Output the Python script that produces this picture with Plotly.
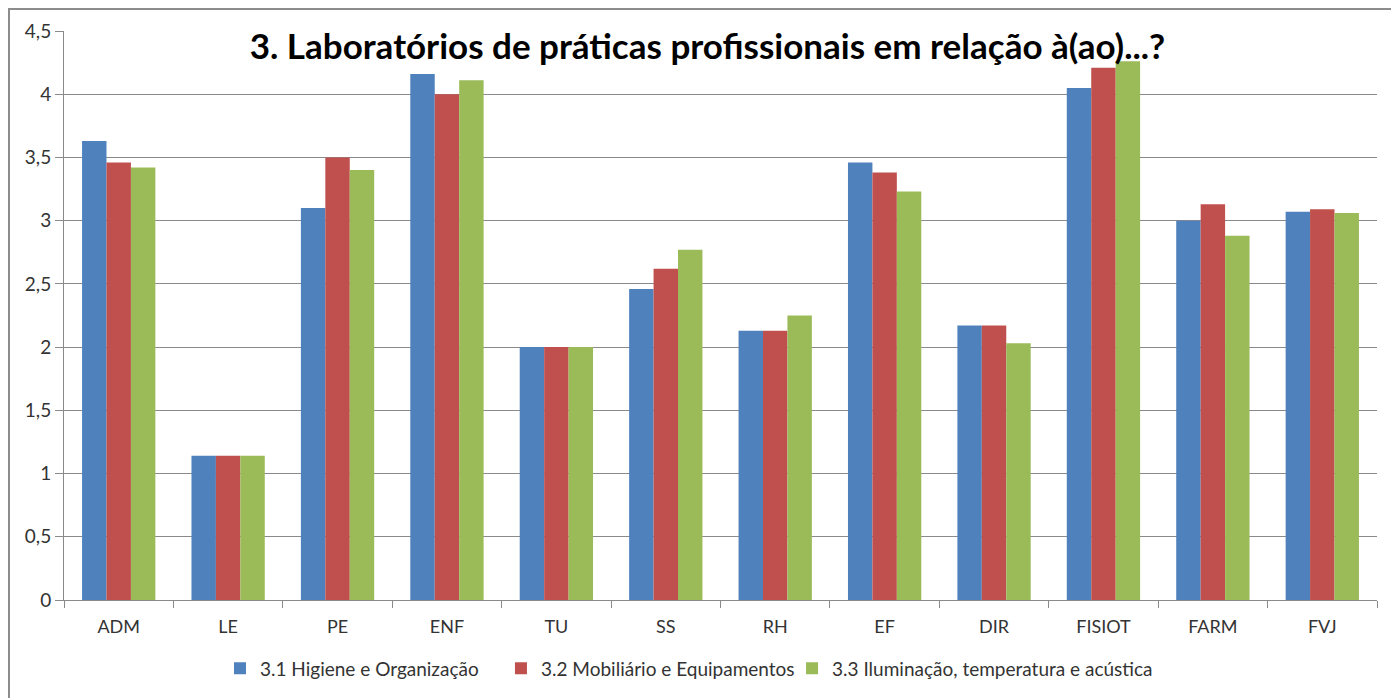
import plotly.graph_objects as go

categories = ["ADM", "LE", "PE", "ENF", "TU", "SS", "RH", "EF", "DIR", "FISIOT", "FARM", "FVJ"]
series_names = ["3.1 Higiene e Organização", "3.2 Mobiliário e Equipamentos", "3.3 Iluminação, temperatura e acústica"]
higiene = [3.63, 1.14, 3.10, 4.16, 2.00, 2.46, 2.13, 3.46, 2.17, 4.05, 3.00, 3.07]
mobiliario = [3.46, 1.14, 3.50, 4.00, 2.00, 2.62, 2.13, 3.38, 2.17, 4.21, 3.13, 3.09]
iluminacao = [3.42, 1.14, 3.40, 4.11, 2.00, 2.77, 2.25, 3.23, 2.03, 4.26, 2.88, 3.06]
colors = ["#4F81BD", "#C0504D", "#9BBB59"]
ytick_vals = [0, 0.5, 1, 1.5, 2, 2.5, 3, 3.5, 4, 4.5]
ytick_text = ["0", "0,5", "1", "1,5", "2", "2,5", "3", "3,5", "4", "4,5"]
title_text = "3. Laboratórios de práticas profissionais em relação à(ao)...?"

legend_ids = ["legend", "legend2", "legend3"]
legend_x = [0.1188, 0.3328, 0.5545]

fig = go.Figure()
for name, vals, c, lid in zip(series_names, [higiene, mobiliario, iluminacao], colors, legend_ids):
    fig.add_trace(go.Bar(x=categories, y=vals, name=name, marker_color=c,
                         marker_line_width=0, legend=lid))

legend_common = dict(orientation="h", xanchor="left", y=-0.12, yanchor="middle",
                     font=dict(size=19, color="#333333"), itemwidth=30,
                     bgcolor="rgba(0,0,0,0)")

fig.update_layout(
    width=1399, height=698,
    margin=dict(l=56, r=30, t=23, b=106),
    paper_bgcolor="white", plot_bgcolor="white",
    barmode="group", bargap=0.33, bargroupgap=0,
    font=dict(family="Lato, Open Sans, sans-serif", size=18, color="#333333"),
    title=dict(text="<b>" + title_text + "</b>", x=0.5, xanchor="center",
               y=0.944, yanchor="middle", yref="container",
               font=dict(family="Lato, Open Sans, sans-serif", size=35, color="black")),
    showlegend=True,
    legend=dict(x=legend_x[0], **legend_common),
    legend2=dict(x=legend_x[1], **legend_common),
    legend3=dict(x=legend_x[2], **legend_common),
    shapes=[dict(type="rect", xref="paper", yref="paper", x0=-0.0419, x1=1.1,
                 y0=-0.3, y1=1.0387, line=dict(color="#8c8c8c", width=2),
                 fillcolor="rgba(0,0,0,0)", layer="below")],
)
fig.update_yaxes(range=[0, 4.5], tickvals=ytick_vals, ticktext=ytick_text,
                 showgrid=True, gridcolor="#8a8a8a", gridwidth=1,
                 showline=True, linecolor="#8a8a8a", ticks="outside", ticklen=8,
                 tickcolor="#8a8a8a", zeroline=False, tickfont=dict(size=19, color="#333333"))
fig.update_xaxes(showline=True, linecolor="#8a8a8a", ticks="outside", ticklen=7,
                 tickcolor="#8a8a8a", tickson="boundaries", showgrid=False,
                 ticklabelstandoff=10,
                 tickfont=dict(size=18, color="#333333"))

fig.write_html("out.html")
